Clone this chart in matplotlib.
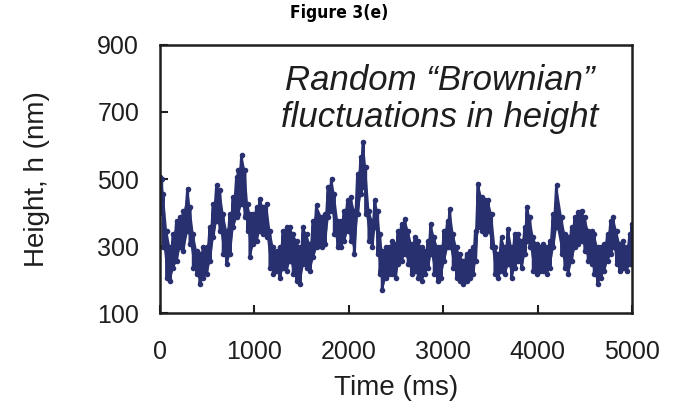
import numpy as np
import matplotlib
matplotlib.use("Agg")
import matplotlib.pyplot as plt

# Trace: time (ms) with the upper and lower edge of the noisy band (nm)
time_ms = [0, 18, 35, 70, 106, 141, 176, 212, 247, 293, 318, 353, 388, 424, 459, 494,
           530, 565, 600, 635, 670, 706, 741, 776, 812,
           830, 865, 900, 928, 953, 988, 1023, 1059, 1094, 1129, 1165, 1200, 1235, 1271,
           1306, 1341, 1376, 1412, 1447, 1482, 1518, 1553, 1588, 1624,
           1659, 1713, 1748, 1783, 1818, 1847, 1882, 1917, 1953, 1988, 2023, 2059, 2094,
           2129, 2154, 2179, 2214, 2249, 2277, 2306, 2330, 2355, 2390, 2426, 2461, 2496,
           2524, 2560, 2595, 2630, 2665, 2701, 2736, 2771, 2807, 2842, 2870, 2906, 2941,
           2976, 3011, 3047, 3071, 3107, 3142, 3177, 3213, 3248, 3283, 3319, 3343,
           3372, 3407, 3443, 3478, 3513, 3549, 3584, 3619, 3655, 3690, 3725, 3760, 3796,
           3831, 3866, 3891, 3919, 3955, 3990, 4025, 4061, 4096, 4131, 4167, 4202,
           4255, 4290, 4325, 4361, 4396, 4431, 4467, 4502, 4537, 4573, 4601, 4636, 4671,
           4707, 4742, 4777, 4802, 4837, 4872, 4908, 4943, 4978, 5000]

height_hi = [506, 500, 456, 346, 296, 336, 376, 386, 406, 471, 416, 336, 286, 276, 296, 296,
             356, 426, 481, 466, 396, 346, 396, 446, 506,
             526, 571, 526, 426, 396, 396, 416, 441, 416, 426, 346, 296, 286, 296,
             346, 356, 356, 336, 316, 296, 356, 336, 306, 376,
             421, 386, 396, 476, 501, 456, 376, 376, 406, 436, 446, 406, 516,
             566, 611, 536, 406, 376, 436, 406, 336, 286, 296, 296, 316, 306,
             346, 366, 381, 346, 306, 326, 316, 296, 286, 316, 366, 326, 296,
             296, 346, 376, 411, 336, 296, 276, 256, 276, 286, 296, 346,
             486, 446, 436, 436, 396, 296, 276, 326, 296, 351, 296, 336, 336,
             316, 356, 418, 386, 326, 306, 296, 306, 296, 316, 396, 481,
             386, 336, 326, 356, 386, 401, 406, 386, 346, 346, 336, 296, 296,
             306, 336, 376, 386, 346, 306, 316, 296, 336, 366]

height_lo = [440, 400, 296, 206, 196, 236, 256, 296, 286, 346, 306, 236, 216, 186, 206, 216,
             256, 326, 376, 346, 276, 246, 276, 356, 386,
             396, 426, 386, 346, 266, 306, 316, 346, 336, 326, 236, 216, 226, 206,
             236, 226, 256, 216, 196, 186, 246, 236, 226, 266,
             296, 296, 306, 386, 406, 336, 296, 296, 316, 346, 316, 276, 396,
             456, 476, 396, 316, 296, 356, 276, 216, 170, 206, 216, 216, 206,
             246, 256, 276, 246, 216, 226, 206, 196, 216, 236, 276, 216, 196,
             206, 256, 296, 296, 236, 206, 196, 186, 196, 206, 216, 256,
             356, 346, 336, 346, 296, 216, 206, 226, 216, 246, 206, 236, 256,
             236, 276, 316, 296, 226, 216, 226, 226, 216, 236, 296, 356,
             276, 236, 216, 256, 296, 306, 316, 286, 256, 246, 216, 186, 206,
             226, 256, 276, 296, 246, 226, 236, 226, 246, 256]

x_ticks = [0, 1000, 2000, 3000, 4000, 5000]
y_ticks = [100, 300, 500, 700, 900]

navy = "#283070"
ink = "#1e1e1e"

fig = plt.figure(figsize=(6.78, 4.12), dpi=100)
ax = fig.add_axes([0.236, 0.240, 0.696, 0.651])

t = np.array(time_ms, dtype=float)
hi = np.array(height_hi, dtype=float)
lo = np.array(height_lo, dtype=float)

# solid band + zigzag of dots between the edges
ax.fill_between(t, lo, hi, color=navy, lw=0)
zig_t = np.repeat(t, 2)
zig_h = np.column_stack([hi, lo]).ravel()
ax.plot(zig_t, zig_h, color=navy, lw=2.2, marker="o", ms=4, mew=0)

ax.set_xlim(0, 5000)
ax.set_ylim(100, 900)
ax.set_xticks(x_ticks)
ax.set_yticks(y_ticks)

for s in ax.spines.values():
    s.set_linewidth(1.8)
    s.set_color(ink)

ax.tick_params(axis="both", direction="in", length=6, width=1.5, color=ink,
               labelsize=18, labelcolor=ink)
ax.tick_params(axis="x", pad=19)
ax.tick_params(axis="y", pad=15)
for lab in ax.get_xticklabels() + ax.get_yticklabels():
    lab.set_family("Liberation Sans")

ax.set_xlabel("Time (ms)", fontsize=20, family="Liberation Sans", color=ink, labelpad=8)
ax.set_ylabel("Height, h (nm)", fontsize=20, family="Liberation Sans", color=ink, labelpad=34)

ax.text(0.593, 0.869, "Random \u201cBrownian\u201d", transform=ax.transAxes,
        ha="center", va="center", style="italic", fontsize=25,
        family="Liberation Sans", color=ink)
ax.text(0.593, 0.731, "fluctuations in height", transform=ax.transAxes,
        ha="center", va="center", style="italic", fontsize=25,
        family="Liberation Sans", color=ink)

fig.text(0.5, 0.968, "Figure 3(e)", ha="center", va="center", fontsize=12.5,
         weight="bold", family=["Liberation Sans Narrow", "DejaVu Sans"],
         stretch="condensed", color="black")

fig.savefig("out.png", dpi=100)
